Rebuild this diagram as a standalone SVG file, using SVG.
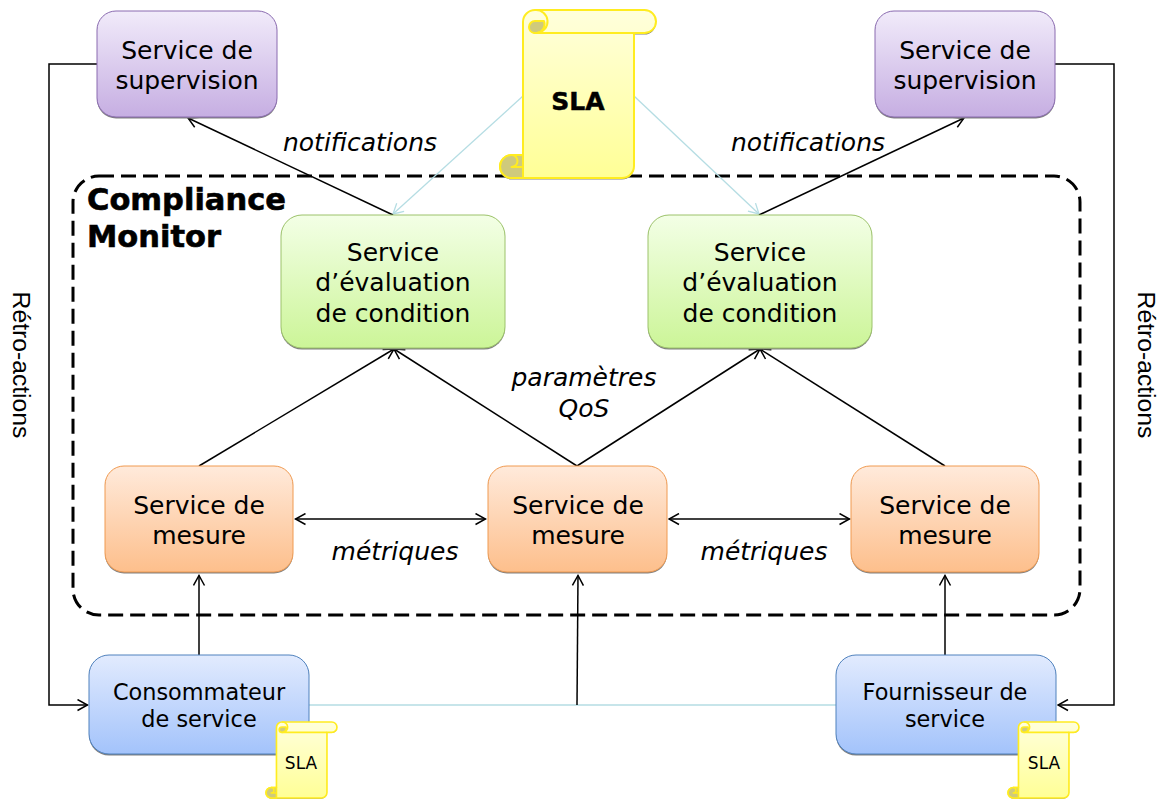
<svg xmlns="http://www.w3.org/2000/svg" xmlns:xlink="http://www.w3.org/1999/xlink" width="1160" height="799" viewBox="0 0 1160 799">
<style>
text{font-family:"DejaVu Sans",Verdana,sans-serif;fill:#000;text-anchor:middle}
.n{font-size:25px}
.c{font-size:22.400px}
.i{font-size:25px;font-style:italic}
.b{font-size:30.500px;font-weight:bold;text-anchor:start;stroke:#000;stroke-width:.6}
.ln{fill:none;stroke:#000;stroke-width:1.500}
.lb{fill:none;stroke:#b5dde3;stroke-width:1.300}
.sh{fill:#808080}
.scr{fill:url(#gy);stroke:#ffec20;stroke-linejoin:round}
.crl{fill:#cfca7c;stroke:#ffec20;stroke-linejoin:round}
.side{font-family:"Liberation Sans",Arial,sans-serif;font-size:24.700px}
</style>
<defs>
<linearGradient id="gp" x1="0" y1="0" x2="0" y2="1"><stop offset="0" stop-color="#f1ebfa"/><stop offset="1" stop-color="#c6aee2"/></linearGradient>
<linearGradient id="gg" x1="0" y1="0" x2="0" y2="1"><stop offset="0" stop-color="#f3ffe6"/><stop offset="1" stop-color="#ccf598"/></linearGradient>
<linearGradient id="go" x1="0" y1="0" x2="0" y2="1"><stop offset="0" stop-color="#ffeadb"/><stop offset="1" stop-color="#fdbf8c"/></linearGradient>
<linearGradient id="gb" x1="0" y1="0" x2="0" y2="1"><stop offset="0" stop-color="#e2ebfe"/><stop offset="1" stop-color="#a3c3fb"/></linearGradient>
<linearGradient id="gy" x1="0" y1="0" x2="0" y2="1"><stop offset="0" stop-color="#ffffdc"/><stop offset="1" stop-color="#ffff96"/></linearGradient>
<marker id="a" viewBox="0 0 13 13" refX="11.500" refY="6.500" markerWidth="13" markerHeight="13" markerUnits="userSpaceOnUse" orient="auto-start-reverse"><path d="M1.500 1 L11.500 6.500 L1.500 12" fill="none" stroke="#000" stroke-width="1.500"/></marker>
<marker id="al" viewBox="0 0 13 13" refX="11.500" refY="6.500" markerWidth="13" markerHeight="13" markerUnits="userSpaceOnUse" orient="auto"><path d="M1.500 1 L11.500 6.500 L1.500 12" fill="none" stroke="#b5dde3" stroke-width="1.300"/></marker>
<g id="scroll">
<path class="sh" d="M523 156.500V23.500A12 12 0 0 1 535 11.500H644.500A11.500 11.500 0 0 1 644.500 34.500H634V167.500A12 12 0 0 1 622 179.500H511.500A11.500 11.500 0 0 1 511.500 156.500Z" stroke="none"/>
<path class="scr" d="M523 155V22A12 12 0 0 1 535 10H644.500A11.500 11.500 0 0 1 644.500 33H634V166A12 12 0 0 1 622 178H511.500A11.500 11.500 0 0 1 511.500 155Z"/>
<path class="crl" d="M529 27A6 6 0 0 1 535 21H544A9 9 0 0 1 537 33H534A6 6 0 0 1 529 27Z"/>
<path class="scr" style="fill:none" d="M535 10A11.500 11.500 0 0 1 537 33H634"/>
<path class="crl" d="M523 178H511.500A11.500 11.500 0 0 1 511.500 155H523Z"/>
<path class="scr" style="fill:none" d="M511.500 155A6 6 0 0 1 511.500 167H523"/>
</g>
</defs>

<rect id="compliance-frame" x="73" y="176" width="1007" height="439" rx="26" fill="none" stroke="#000" stroke-width="3" stroke-dasharray="15 7"/>

<g id="connectors">
<path class="lb" d="M523 96L393 214" marker-end="url(#al)"/>
<path class="lb" d="M634 96L759 214" marker-end="url(#al)"/>
<path class="lb" d="M309 705H836"/>
<path class="ln" d="M393 215L188 118" marker-end="url(#a)"/>
<path class="ln" d="M759 215L964 118" marker-end="url(#a)"/>
<path class="ln" d="M199 466L394 349" marker-end="url(#a)"/>
<path class="ln" d="M577 466L394 349" marker-end="url(#a)"/>
<path class="ln" d="M577 466L760 349" marker-end="url(#a)"/>
<path class="ln" d="M945 466L760 349" marker-end="url(#a)"/>
<path class="ln" d="M295.500 519H485.500" marker-start="url(#a)" marker-end="url(#a)"/>
<path class="ln" d="M669 519H849.500" marker-start="url(#a)" marker-end="url(#a)"/>
<path class="ln" d="M199 655V575.500" marker-end="url(#a)"/>
<path class="ln" d="M577 705L578 575.500" marker-end="url(#a)"/>
<path class="ln" d="M945 655V575.500" marker-end="url(#a)"/>
<path class="ln" d="M97 64H49V705H87.500" marker-end="url(#a)"/>
<path class="ln" d="M1055 64H1114V705H1058" marker-end="url(#a)"/>
</g>

<g id="sup-left"><rect class="sh" x="97" y="12.500" width="180" height="106" rx="19"/><rect x="97" y="11" width="180" height="106" rx="19" fill="url(#gp)" stroke="#8a6bb0"/><text class="n" x="187" y="59">Service de</text><text class="n" x="187" y="89">supervision</text></g>
<g id="sup-right"><rect class="sh" x="875" y="12.500" width="180" height="106" rx="19"/><rect x="875" y="11" width="180" height="106" rx="19" fill="url(#gp)" stroke="#8a6bb0"/><text class="n" x="965" y="59">Service de</text><text class="n" x="965" y="89">supervision</text></g>

<g id="sla-main"><use href="#scroll" stroke-width="2"/><text x="578" y="110" style="font-size:25px;font-weight:bold;stroke:#000;stroke-width:.5">SLA</text></g>

<g id="eval-left"><rect class="sh" x="281" y="216.500" width="224" height="133" rx="21"/><rect x="281" y="215" width="224" height="133" rx="21" fill="url(#gg)" stroke="#9cc26a"/><text class="n" x="393" y="261">Service</text><text class="n" x="393" y="291">d’évaluation</text><text class="n" x="393" y="322">de condition</text></g>
<g id="eval-right"><rect class="sh" x="648" y="216.500" width="224" height="133" rx="21"/><rect x="648" y="215" width="224" height="133" rx="21" fill="url(#gg)" stroke="#9cc26a"/><text class="n" x="760" y="261">Service</text><text class="n" x="760" y="291">d’évaluation</text><text class="n" x="760" y="322">de condition</text></g>

<g id="mes-left"><rect class="sh" x="105" y="467.500" width="188" height="106" rx="19"/><rect x="105" y="466" width="188" height="106" rx="19" fill="url(#go)" stroke="#f09a50"/><text class="n" x="199" y="514">Service de</text><text class="n" x="199" y="544">mesure</text></g>
<g id="mes-mid"><rect class="sh" x="488" y="467.500" width="179" height="106" rx="19"/><rect x="488" y="466" width="179" height="106" rx="19" fill="url(#go)" stroke="#f09a50"/><text class="n" x="578" y="514">Service de</text><text class="n" x="578" y="544">mesure</text></g>
<g id="mes-right"><rect class="sh" x="851" y="467.500" width="188" height="106" rx="19"/><rect x="851" y="466" width="188" height="106" rx="19" fill="url(#go)" stroke="#f09a50"/><text class="n" x="945" y="514">Service de</text><text class="n" x="945" y="544">mesure</text></g>

<g id="consumer"><rect class="sh" x="89" y="656.500" width="220" height="99" rx="20"/><rect x="89" y="655" width="220" height="99" rx="20" fill="url(#gb)" stroke="#4f81bd"/><text class="c" x="199" y="700">Consommateur</text><text class="c" x="199" y="727">de service</text></g>
<g id="provider"><rect class="sh" x="836" y="656.500" width="220" height="99" rx="20"/><rect x="836" y="655" width="220" height="99" rx="20" fill="url(#gb)" stroke="#4f81bd"/><text class="c" x="945" y="700">Fournisseur de</text><text class="c" x="945" y="727">service</text></g>

<g id="sla-consumer"><use href="#scroll" transform="translate(38.500 717.500) scale(0.455 0.452)" stroke-width="3.600"/><text x="301" y="769" style="font-size:17px">SLA</text></g>
<g id="sla-provider"><use href="#scroll" transform="translate(780.500 717.500) scale(0.455 0.452)" stroke-width="3.600"/><text x="1044" y="769" style="font-size:17px">SLA</text></g>

<g id="labels">
<text class="b" x="87" y="210">Compliance</text>
<text class="b" x="87" y="247">Monitor</text>
<text class="i" x="360" y="151">notifications</text>
<text class="i" x="808" y="151">notifications</text>
<text class="i" x="584" y="386">paramètres</text>
<text class="i" x="584" y="417">QoS</text>
<text class="i" x="395" y="560">métriques</text>
<text class="i" x="764" y="560">métriques</text>
<text class="side" transform="translate(13 365) rotate(90)">Rétro-actions</text>
<text class="side" transform="translate(1138 365) rotate(90)">Rétro-actions</text>
</g>
</svg>
